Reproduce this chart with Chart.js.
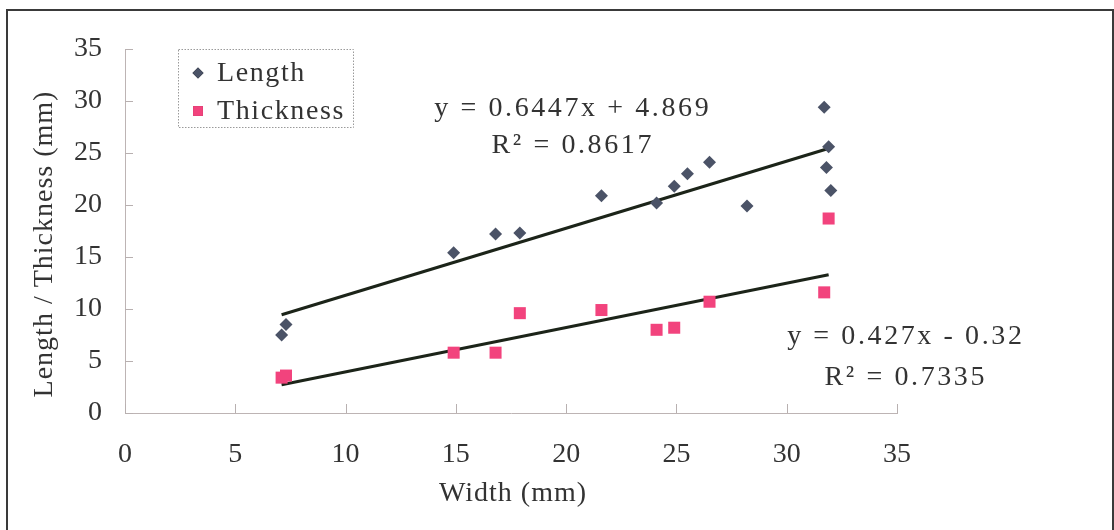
<!DOCTYPE html>
<html>
<head>
<meta charset="utf-8">
<script src="https://cdn.jsdelivr.net/npm/chart.js@4.4.1/dist/chart.umd.min.js"></script>
<style>
  html, body { margin: 0; padding: 0; background: #fff; }
  #wrap { position: relative; width: 1114px; height: 530px; overflow: hidden; }
  #frame { position: absolute; left: 6px; top: 9px; width: 1104px; height: 540px;
           border: 2px solid #3a3a3a; pointer-events: none; }
</style>
</head>
<body>
<div id="wrap">
  <canvas id="chart" width="1114" height="530"></canvas>
  <div id="frame"></div>
</div>
<script>
// values
const lengthWidth = [7.1, 7.3, 14.9, 16.8, 17.9, 21.6, 24.1, 24.9, 25.5, 26.5, 28.2, 31.7, 31.9, 31.8, 32.0];
const lengthValue = [7.5, 8.5, 15.4, 17.2, 17.3, 20.9, 20.2, 21.8, 23.0, 24.1, 19.9, 29.4, 25.6, 23.6, 21.4];
const thicknessWidth = [7.1, 7.3, 14.9, 16.8, 17.9, 21.6, 24.1, 24.9, 26.5, 31.7, 31.9];
const thicknessValue = [3.4, 3.6, 5.8, 5.8, 9.6, 9.9, 8.0, 8.2, 10.7, 11.6, 18.7];

// trendline equations printed on the chart
const fitSlope = [0.6447, 0.427];
const fitIntercept = [4.869, -0.32];
const fitR2 = ['0.8617', '0.7335'];
const fitText = ['y = 0.6447x + 4.869', 'y = 0.427x - 0.32'];

const seriesNames = ['Length', 'Thickness'];
const axisTicks = [0, 5, 10, 15, 20, 25, 30, 35];

const serif = '"Liberation Serif", "DejaVu Serif", serif';
const textColor = '#333';

function pts(xs, ys) { return xs.map((x, i) => ({ x: x, y: ys[i] })); }
function trend(xs, k) {
  const lo = Math.min(...xs), hi = Math.max(...xs);
  return [{ x: lo, y: fitSlope[k] * lo + fitIntercept[k] }, { x: hi, y: fitSlope[k] * hi + fitIntercept[k] }];
}

const extras = {
  id: 'extras',
  afterDraw(chart) {
    const ctx = chart.ctx, xs = chart.scales.x, ys = chart.scales.y, a = chart.chartArea;
    ctx.save();
    // inner tick marks
    ctx.strokeStyle = '#b8b0b0';
    ctx.lineWidth = 1;
    ctx.beginPath();
    axisTicks.forEach(v => {
      const py = Math.round(ys.getPixelForValue(v)) + 0.5;
      ctx.moveTo(a.left, py); ctx.lineTo(a.left + 8, py);
      const px = Math.round(xs.getPixelForValue(v)) + 0.5;
      ctx.moveTo(px, a.bottom); ctx.lineTo(px, a.bottom - 9);
    });
    ctx.stroke();

    // legend box
    const lx = a.left + 53, ly = a.top;
    ctx.setLineDash([1.5, 1.5]);
    ctx.strokeStyle = '#9a9a9a';
    ctx.strokeRect(lx + 0.5, ly + 0.5, 175, 78);
    ctx.setLineDash([]);
    ctx.font = '28px ' + serif;
    ctx.letterSpacing = '1.6px';
    ctx.textBaseline = 'middle';
    ctx.textAlign = 'left';
    [0, 1].forEach(i => {
      const ds = chart.data.datasets[i];
      const cy = ly + 24 + i * 38;
      Chart.helpers.drawPoint(ctx, { pointStyle: ds.pointStyle, radius: i === 0 ? 5.5 : 7, borderWidth: 0 }, lx + 20, cy);
      ctx.fillStyle = ds.backgroundColor;
      ctx.fill();
      ctx.fillStyle = textColor;
      ctx.fillText(seriesNames[i], lx + 39, cy + 1);
    });

    // equations
    ctx.textAlign = 'center';
    ctx.letterSpacing = '2.6px';
    const eqPos = [[20.3, 29.3, 25.7], [35.4, 7.3, 3.4]];
    [0, 1].forEach(k => {
      const px = xs.getPixelForValue(eqPos[k][0]);
      ctx.fillText(fitText[k], px, ys.getPixelForValue(eqPos[k][1]));
      ctx.fillText('R\u00b2 = ' + fitR2[k], px, ys.getPixelForValue(eqPos[k][2]));
    });

    // axis titles
    ctx.letterSpacing = '1px';
    ctx.fillText('Width (mm)', (a.left + a.right) / 2 + 2, a.bottom + 81);
    ctx.translate(45, 244);
    ctx.rotate(-Math.PI / 2);
    ctx.fillText('Length / Thickness (mm)', 0, 0);
    ctx.restore();
  }
};

new Chart(document.getElementById('chart'), {
  type: 'scatter',
  data: {
    datasets: [
      { label: seriesNames[0], data: pts(lengthWidth, lengthValue), pointStyle: 'rectRot',
        radius: 6.5, hoverRadius: 6.5, backgroundColor: '#4b5367', borderWidth: 0 },
      { label: seriesNames[1], data: pts(thicknessWidth, thicknessValue), pointStyle: 'rect',
        radius: 8.5, hoverRadius: 8.5, backgroundColor: '#f2437d', borderWidth: 0 },
      { type: 'line', label: 'Length fit', data: trend(lengthWidth, 0), borderColor: '#1c2419',
        borderWidth: 3, pointRadius: 0, fill: false },
      { type: 'line', label: 'Thickness fit', data: trend(thicknessWidth, 1), borderColor: '#1c2419',
        borderWidth: 3, pointRadius: 0, fill: false }
    ]
  },
  options: {
    responsive: false,
    animation: false,
    events: [],
    layout: { padding: { left: 0, right: 217, top: 49, bottom: 0 } },
    plugins: { legend: { display: false }, tooltip: { enabled: false } },
    scales: {
      x: {
        type: 'linear', min: 0, max: 35,
        afterFit: s => { s.height = 117; },
        afterBuildTicks: s => { s.ticks = axisTicks.map(v => ({ value: v })); },
        grid: { display: false, drawTicks: false },
        border: { color: '#bdb4b4', dash: [2, 1] },
        ticks: { padding: 25, color: textColor, font: { family: serif, size: 28 } }
      },
      y: {
        type: 'linear', min: 0, max: 35,
        afterFit: s => { s.width = 125; },
        afterBuildTicks: s => { s.ticks = axisTicks.map(v => ({ value: v })); },
        grid: { display: false, drawTicks: false },
        border: { color: '#bdb4b4', dash: [2, 1] },
        ticks: { padding: 23, color: textColor, font: { family: serif, size: 28 } }
      }
    }
  },
  plugins: [extras]
});
</script>
</body>
</html>
